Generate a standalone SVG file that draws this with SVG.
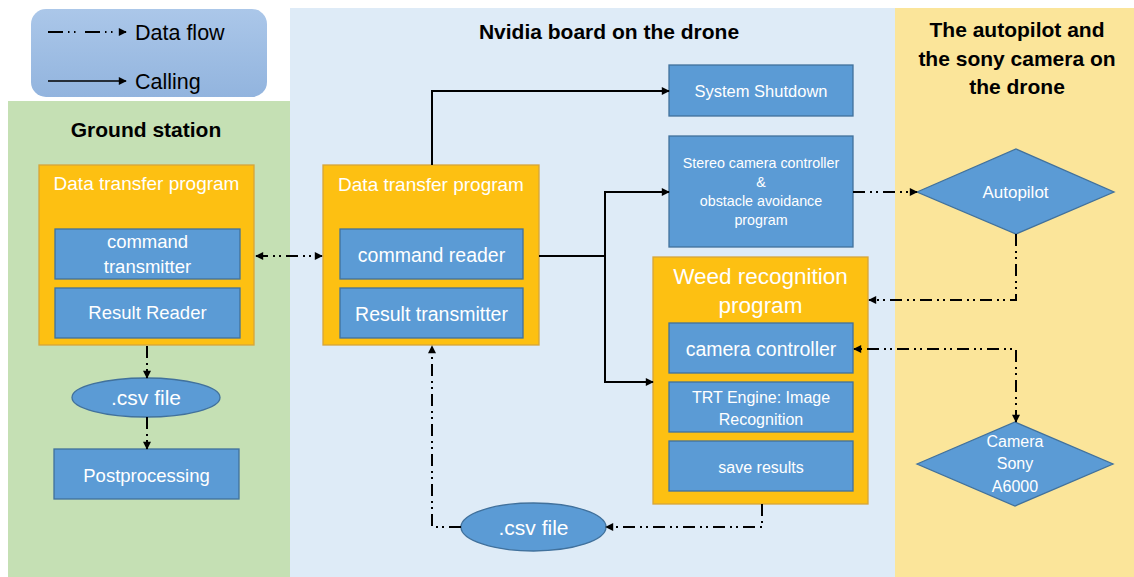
<svg xmlns="http://www.w3.org/2000/svg" width="1134" height="577" viewBox="0 0 1134 577">
<defs>
<linearGradient id="lg" x1="0" y1="0" x2="0" y2="1">
<stop offset="0" stop-color="#abc7e9"/>
<stop offset="1" stop-color="#92b4de"/>
</linearGradient>
<marker id="ah" viewBox="0 0 10 10" refX="9" refY="5" markerWidth="9" markerHeight="8" markerUnits="userSpaceOnUse" orient="auto-start-reverse">
<path d="M0,0 L10,5 L0,10 z" fill="#000"/>
</marker>
<style>
.t{font-family:"Liberation Sans",Arial,sans-serif;fill:#fff;text-anchor:middle}
.h{font-family:"Liberation Sans",Arial,sans-serif;font-weight:bold;fill:#000;text-anchor:middle;font-size:21px}
.blue{fill:#5b9bd5;stroke:#41719c;stroke-width:1.3}
.gold{fill:#fdc012;stroke:#d6a53a;stroke-width:1.3}
.df{fill:none;stroke:#000;stroke-width:2;stroke-dasharray:12 5 2 4 2 5}
.cl{fill:none;stroke:#000;stroke-width:2}
</style>
</defs>
<!-- panels -->
<rect x="8" y="101" width="282" height="476" fill="#c5e0b4"/>
<rect x="290" y="8" width="605" height="569" fill="#deebf7"/>
<rect x="895" y="8" width="239" height="569" fill="#fbe59a"/>
<text class="h" x="146" y="137">Ground station</text>
<text class="h" x="609" y="39">Nvidia board on the drone</text>
<text class="h" x="1017" y="37">The autopilot and</text>
<text class="h" x="1017" y="65.5">the sony camera on</text>
<text class="h" x="1017" y="94">the drone</text>

<!-- legend -->
<g id="legend">
<rect x="31" y="9" width="236" height="88" rx="15" fill="url(#lg)"/>
<line x1="48" y1="32" x2="126" y2="32" stroke="#000" stroke-width="2" stroke-dasharray="15 5 1.5 4.5 1.5 9.5" marker-end="url(#ah)"/>
<line x1="48" y1="81" x2="126" y2="81" stroke="#000" stroke-width="1.5" marker-end="url(#ah)"/>
<text x="135" y="39.5" font-family="Liberation Sans, Arial, sans-serif" font-size="21.5" fill="#000">Data flow</text>
<text x="135" y="89" font-family="Liberation Sans, Arial, sans-serif" font-size="21.5" fill="#000">Calling</text>
</g>

<!-- ground station -->
<g id="gs-dtp">
<rect class="gold" x="39" y="165" width="215" height="180"/>
<text class="t" x="146.5" y="190" font-size="19">Data transfer program</text>
</g>
<g id="gs-cmd">
<rect class="blue" x="55" y="229" width="185" height="50"/>
<text class="t" x="147.5" y="248" font-size="18.5">command</text>
<text class="t" x="147.5" y="273" font-size="18.5">transmitter</text>
</g>
<g id="gs-res">
<rect class="blue" x="55" y="288" width="185" height="50"/>
<text class="t" x="147.5" y="319" font-size="18.5">Result Reader</text>
</g>
<g id="gs-csv">
<ellipse class="blue" cx="146" cy="397.5" rx="74" ry="19.5"/>
<text class="t" x="146" y="405" font-size="21">.csv file</text>
</g>
<g id="gs-post">
<rect class="blue" x="54" y="449" width="185" height="50"/>
<text class="t" x="146.5" y="482" font-size="18.5">Postprocessing</text>
</g>

<!-- nvidia -->
<g id="nv-dtp">
<rect class="gold" x="323" y="165" width="216" height="180"/>
<text class="t" x="431" y="191" font-size="19">Data transfer program</text>
</g>
<g id="nv-cmd">
<rect class="blue" x="340" y="229" width="183" height="50"/>
<text class="t" x="431.5" y="262" font-size="19.5">command reader</text>
</g>
<g id="nv-res">
<rect class="blue" x="340" y="288" width="183" height="50"/>
<text class="t" x="431.5" y="321" font-size="19.5">Result transmitter</text>
</g>
<g id="shutdown">
<rect class="blue" x="669" y="65" width="184" height="51"/>
<text class="t" x="761" y="96.5" font-size="16.5">System Shutdown</text>
</g>
<g id="stereo">
<rect class="blue" x="669" y="136" width="184" height="111"/>
<text class="t" x="761" y="168" font-size="14.3">Stereo camera controller</text>
<text class="t" x="761" y="187" font-size="14.3">&amp;</text>
<text class="t" x="761" y="206" font-size="14.3">obstacle avoidance</text>
<text class="t" x="761" y="225" font-size="14.3">program</text>
</g>
<g id="weed">
<rect class="gold" x="653" y="257" width="215" height="247"/>
<text class="t" x="760.5" y="284" font-size="22.5">Weed recognition</text>
<text class="t" x="760.5" y="313" font-size="22.5">program</text>
</g>
<g id="camctrl">
<rect class="blue" x="669" y="323" width="184" height="50"/>
<text class="t" x="761" y="356" font-size="19.5">camera controller</text>
</g>
<g id="trt">
<rect class="blue" x="669" y="382" width="184" height="50"/>
<text class="t" x="761" y="403" font-size="16">TRT Engine: Image</text>
<text class="t" x="761" y="425" font-size="16">Recognition</text>
</g>
<g id="save">
<rect class="blue" x="669" y="441" width="184" height="50"/>
<text class="t" x="761" y="473" font-size="16">save results</text>
</g>
<g id="nv-csv">
<ellipse class="blue" cx="533.5" cy="527" rx="72.5" ry="24"/>
<text class="t" x="533.5" y="535" font-size="21">.csv file</text>
</g>

<!-- autopilot side -->
<g id="autopilot">
<path class="blue" d="M917,192 L1016,149 L1114,192 L1016,234 Z"/>
<text class="t" x="1015.5" y="198" font-size="17">Autopilot</text>
</g>
<g id="sony">
<path class="blue" d="M917,464 L1015,422 L1113,464 L1015,506 Z"/>
<text class="t" x="1015" y="447" font-size="16">Camera</text>
<text class="t" x="1015" y="469" font-size="16">Sony</text>
<text class="t" x="1015" y="492" font-size="16">A6000</text>
</g>

<!-- connectors -->
<g id="connectors">
<line class="df" x1="256" y1="256" x2="322" y2="256" marker-start="url(#ah)" marker-end="url(#ah)"/>
<line class="df" x1="147" y1="346" x2="147" y2="378" marker-end="url(#ah)"/>
<line class="df" x1="147" y1="417" x2="147" y2="449" marker-end="url(#ah)"/>
<path class="cl" d="M432,165 V91 H669" marker-end="url(#ah)"/>
<path class="cl" d="M539,256 H605 V192 H669" marker-end="url(#ah)"/>
<path class="cl" d="M605,256 V382 H653" marker-end="url(#ah)"/>
<path class="df" d="M853,192 H917" marker-end="url(#ah)"/>
<path class="df" d="M1016,234 V300 H869" marker-end="url(#ah)"/>
<path class="df" d="M1016,422 V349 H854" marker-start="url(#ah)" marker-end="url(#ah)"/>
<path class="df" d="M762,504 V527 H606" marker-end="url(#ah)"/>
<path class="df" d="M461,527 H432 V346" marker-end="url(#ah)"/>
</g>
</svg>
